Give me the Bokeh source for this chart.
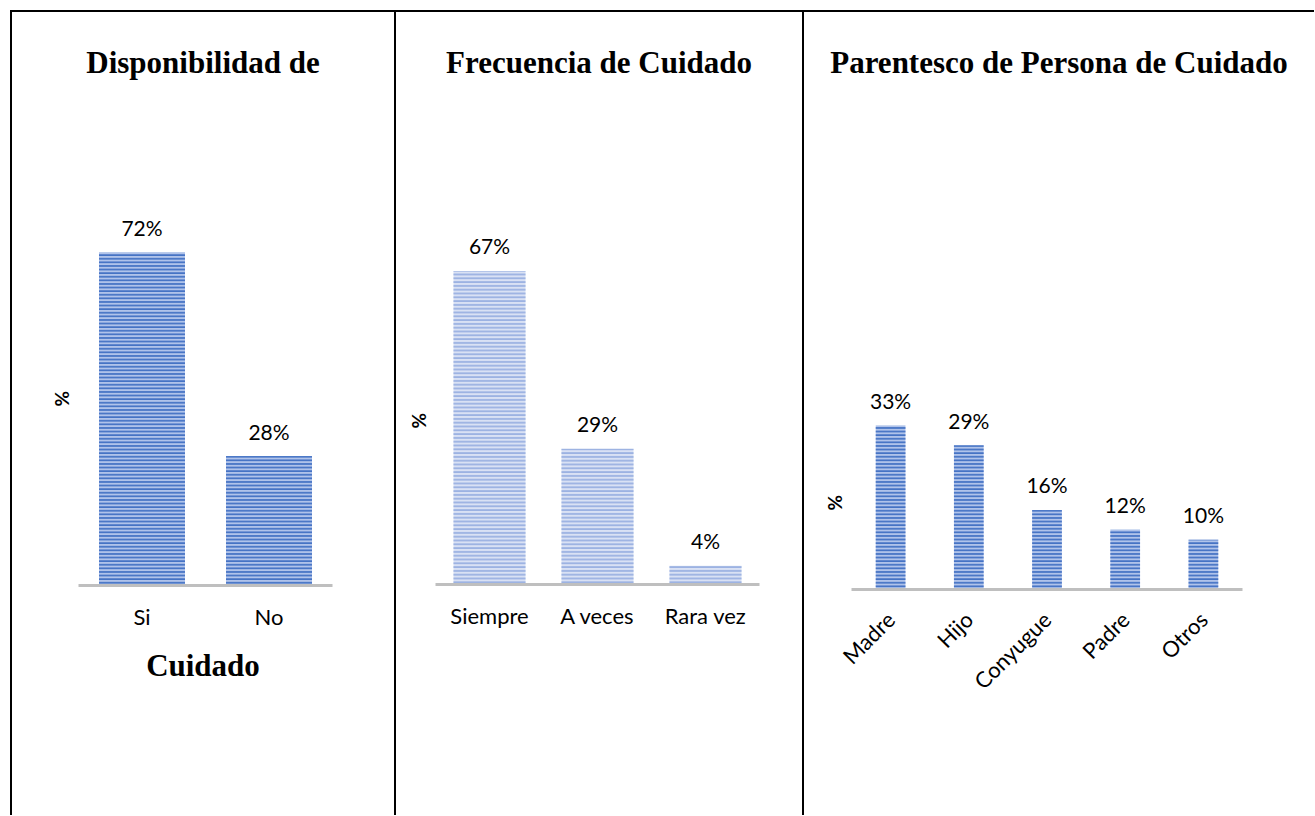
import math
from bokeh.plotting import figure
from bokeh.models import (ColumnDataSource, FactorRange, Range1d, LabelSet,
                          Title, Div, Spacer)
from bokeh.core.properties import value
from bokeh.layouts import row, column
from bokeh.embed import file_html
from bokeh.resources import INLINE

# ---------------- data ----------------
disp_title_top = "Disponibilidad de"
disp_title_bottom = "Cuidado"
disp_cats = ["Si", "No"]
disp_vals = [72, 28]

frec_title = "Frecuencia de Cuidado"
frec_cats = ["Siempre", "A veces", "Rara vez"]
frec_vals = [67, 29, 4]

par_title = "Parentesco de Persona de Cuidado"
par_cats = ["Madre", "Hijo", "Conyugue", "Padre", "Otros"]
par_vals = [33, 29, 16, 12, 10]

y_label = "%"

LABEL_FONT = "Lato"
TITLE_FONT = "Liberation Serif"


def title_div(text, width, height, pad_top):
    html = (f'<div style="width:{width}px;padding-top:{pad_top}px;'
            f'font-family:\'{TITLE_FONT}\';font-weight:bold;font-size:31px;'
            f'line-height:31px;text-align:center;color:#000;white-space:nowrap;">'
            f'{text}</div>')
    return Div(text=html, width=width, height=height, margin=0)


def make_chart(cats, vals, width, top, frame_h, bottom, left, right, px_per,
               bar_w, fill, hatch, hscale, hweight, pct_offset, rotate=False):
    ymax = frame_h / px_per
    p = figure(width=width, height=top + frame_h + bottom,
               x_range=FactorRange(*cats), y_range=Range1d(0, ymax),
               output_backend="svg", toolbar_location=None,
               y_axis_location=None,
               min_border_top=top, min_border_bottom=bottom,
               min_border_left=left, min_border_right=right,
               background_fill_color="white", border_fill_color="white",
               outline_line_color=None)
    src = ColumnDataSource(dict(cat=cats, val=vals,
                                lab=[f"{v}%" for v in vals]))
    p.vbar(x="cat", top="val", width=bar_w, source=src,
           fill_color=fill, line_color=None,
           hatch_pattern="horizontal_line", hatch_color=hatch,
           hatch_scale=hscale, hatch_weight=hweight)
    p.add_layout(LabelSet(x="cat", y="val", text="lab", source=src,
                          text_align="center", text_baseline="middle",
                          y_offset=25, text_font=value(LABEL_FONT),
                          text_font_size=value("21px"),
                          text_color="#000000"))
    p.xgrid.visible = False
    p.ygrid.visible = False
    xa = p.xaxis[0]
    xa.axis_line_color = "#BFBFBF"
    xa.axis_line_width = 3
    xa.major_tick_line_color = None
    xa.minor_tick_line_color = None
    xa.major_label_text_font = LABEL_FONT
    xa.major_label_text_font_size = "22px"
    xa.major_label_text_color = "#000000"
    xa.major_label_standoff = 11
    if rotate:
        xa.major_label_orientation = math.pi / 4
        xa.major_label_standoff = 20
    p.add_layout(Title(text=y_label, align="left", offset=pct_offset,
                       text_font=LABEL_FONT, text_font_style="bold",
                       text_font_size="19px", text_color="#000000",
                       standoff=11), "left")
    return p


def black(w, h):
    return Div(text="", width=w, height=h, margin=0,
               styles={"background-color": "#000000"})


H = 803
W1, W2, W3 = 382, 406, 510

fig1 = make_chart(disp_cats, disp_vals, W1, 94, 379, 50, 66, 62, 4.625,
                  0.677, "#B0C3EA", "#4472C4", 3.6, 1.8, 179)
fig2 = make_chart(frec_cats, frec_vals, W2, 118, 354, 50, 39, 43, 4.68,
                  0.667, "#D9E1F4", "#9CB2E2", 3.8, 1.8, 156)
fig3 = make_chart(par_cats, par_vals, W3, 268, 209, 140, 47, 72, 4.97,
                  0.38, "#B0C3EA", "#4472C4", 3.6, 1.8, 79, rotate=True)

panel1 = column(title_div(disp_title_top, W1, 100, 35), fig1,
                title_div(disp_title_bottom, W1, 60, 15), spacing=0)
panel2 = column(title_div(frec_title, W2, 100, 35), fig2, spacing=0)
panel3 = column(title_div(par_title, W3, 100, 35), fig3, spacing=0)

body = row(Spacer(width=10, height=H), black(2, H), panel1, black(2, H),
           panel2, black(2, H), panel3, spacing=0)
top_line = row(Spacer(width=10, height=2), black(1304, 2), spacing=0)
root = column(Spacer(width=10, height=10), top_line, body, spacing=0)

open("out.html", "w").write(file_html(root, INLINE))
